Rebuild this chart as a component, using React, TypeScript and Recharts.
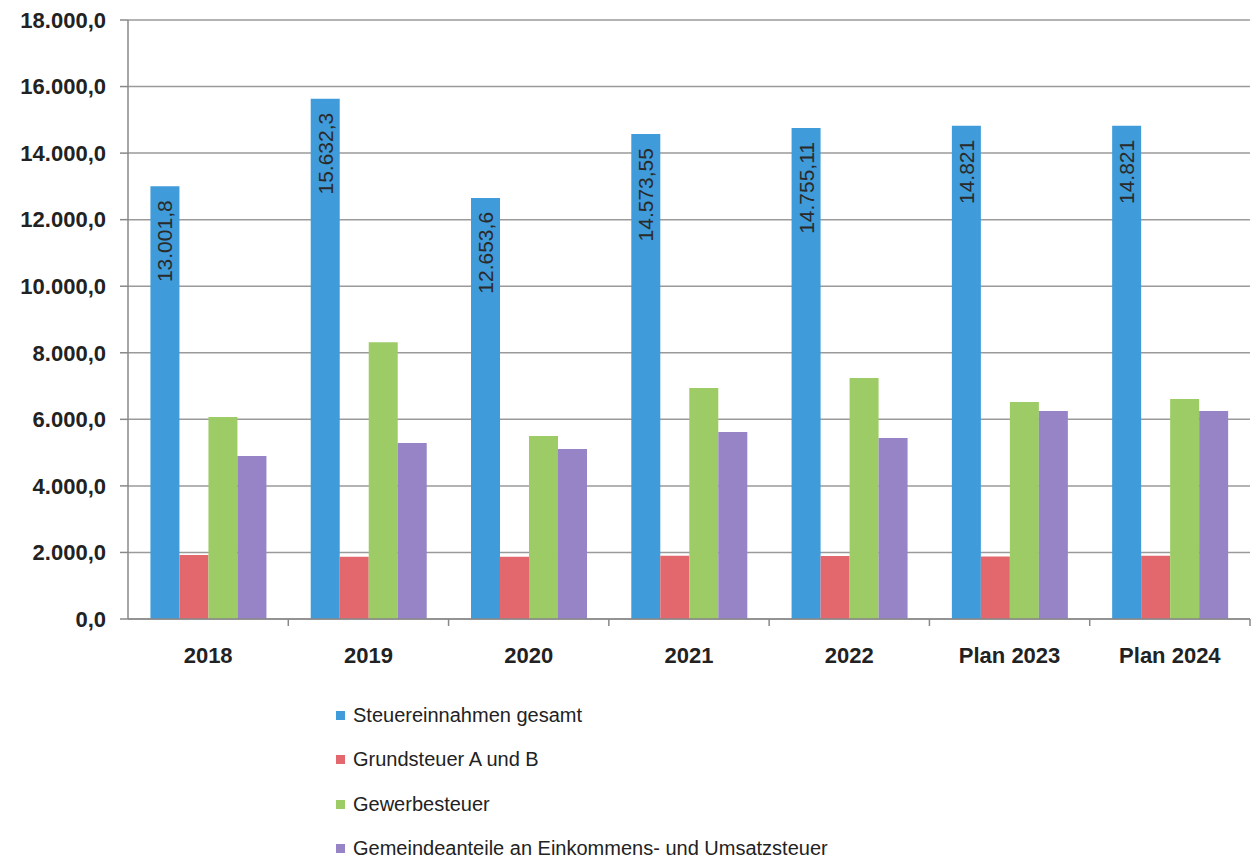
import React from 'react';
import { BarChart, Bar, XAxis, YAxis, CartesianGrid, Legend, LabelList } from 'recharts';

// categories and values (thousand EUR)
const years = ['2018', '2019', '2020', '2021', '2022', 'Plan 2023', 'Plan 2024'];
const gesamt = [13001.8, 15632.3, 12653.6, 14573.55, 14755.11, 14821, 14821];
const grundsteuer = [1920, 1870, 1870, 1900, 1890, 1880, 1900];
const gewerbesteuer = [6070, 8320, 5500, 6940, 7240, 6520, 6610];
const gemeindeanteile = [4900, 5290, 5110, 5620, 5440, 6250, 6250];
const yTicks = [0, 2000, 4000, 6000, 8000, 10000, 12000, 14000, 16000, 18000];

const seriesNames = [
  'Steuereinnahmen gesamt',
  'Grundsteuer A und B',
  'Gewerbesteuer',
  'Gemeindeanteile an Einkommens- und Umsatzsteuer',
];
const colors = ['#3f9bd9', '#e3686d', '#9dcb66', '#9684c6'];

const data = years.map((year, i) => ({
  year,
  gesamt: gesamt[i],
  grundsteuer: grundsteuer[i],
  gewerbesteuer: gewerbesteuer[i],
  gemeindeanteile: gemeindeanteile[i],
}));

const W = 1259;
const H = 859;
const margin = { top: 20, right: 9, left: 0, bottom: 0 };
const yAxisWidth = 128;
const catW = (W - yAxisWidth - margin.right) / years.length;
const font = '"Liberation Sans", Arial, sans-serif';

// german number format: 18000 -> "18.000,0"
const fmtTick = (v: number) => {
  const s = Math.round(v).toString().replace(/\B(?=(\d{3})+(?!\d))/g, '.');
  return s + ',0';
};
const fmtLabel = (v: number) => {
  const [int, dec] = v.toString().split('.');
  const s = int.replace(/\B(?=(\d{3})+(?!\d))/g, '.');
  return dec ? `${s},${dec}` : s;
};

const XTick = (props: any) => {
  const { x, y, payload } = props;
  return (
    <g>
      <text x={x} y={y + 44} textAnchor="middle" fontSize={22} fontWeight="bold" fill="#222" fontFamily={font}>
        {payload.value}
      </text>
      <line x1={x + catW / 2} x2={x + catW / 2} y1={y} y2={y + 7} stroke="#888" strokeWidth={1.5} />
    </g>
  );
};

const BarLabel = (props: any) => {
  const { x, y, width, value } = props;
  const cx = x + width / 2;
  const ty = y + 14;
  return (
    <text
      x={cx}
      y={ty}
      transform={`rotate(-90, ${cx}, ${ty})`}
      textAnchor="end"
      dominantBaseline="central"
      fontSize={21}
      fill="#2a2a2a"
      fontFamily={font}
    >
      {fmtLabel(value)}
    </text>
  );
};

const LegendBox = () => (
  <div style={{ fontFamily: font, fontSize: 20, color: '#222' }}>
    {seriesNames.map((name, i) => (
      <div key={name} style={{ height: 44.5, display: 'flex', alignItems: 'center' }}>
        <span style={{ width: 9, height: 9, background: colors[i], display: 'inline-block', marginRight: 8 }} />
        <span>{name}</span>
      </div>
    ))}
  </div>
);

export default function App() {
  return (
    <div style={{ position: 'absolute', left: 0, top: 0, width: W, height: H, background: '#fff' }}>
      <BarChart width={W} height={H} data={data} margin={margin} barCategoryGap="14%" barGap={0}>
        <CartesianGrid vertical={false} stroke="#9a9a9a" strokeWidth={1.5} />
        <XAxis
          dataKey="year"
          height={240}
          tick={<XTick />}
          tickLine={false}
          tickSize={0}
          tickMargin={0}
          axisLine={{ stroke: '#888', strokeWidth: 1.5 }}
          interval={0}
        />
        <YAxis
          width={yAxisWidth}
          domain={[0, 18000]}
          ticks={yTicks}
          tickFormatter={fmtTick}
          tickSize={8}
          tickMargin={14}
          tick={{ fontSize: 22, fontWeight: 'bold', fill: '#222', fontFamily: font }}
          tickLine={{ stroke: '#888', strokeWidth: 1.5 }}
          axisLine={{ stroke: '#888', strokeWidth: 1.5 }}
          interval={0}
        />
        <Legend
          layout="vertical"
          align="center"
          verticalAlign="middle"
          content={<LegendBox />}
          wrapperStyle={{ left: 336, top: 693, width: 700 }}
        />
        <Bar dataKey="gesamt" name={seriesNames[0]} fill={colors[0]} isAnimationActive={false}>
          <LabelList dataKey="gesamt" content={<BarLabel />} />
        </Bar>
        <Bar dataKey="grundsteuer" name={seriesNames[1]} fill={colors[1]} isAnimationActive={false} />
        <Bar dataKey="gewerbesteuer" name={seriesNames[2]} fill={colors[2]} isAnimationActive={false} />
        <Bar dataKey="gemeindeanteile" name={seriesNames[3]} fill={colors[3]} isAnimationActive={false} />
      </BarChart>
    </div>
  );
}
